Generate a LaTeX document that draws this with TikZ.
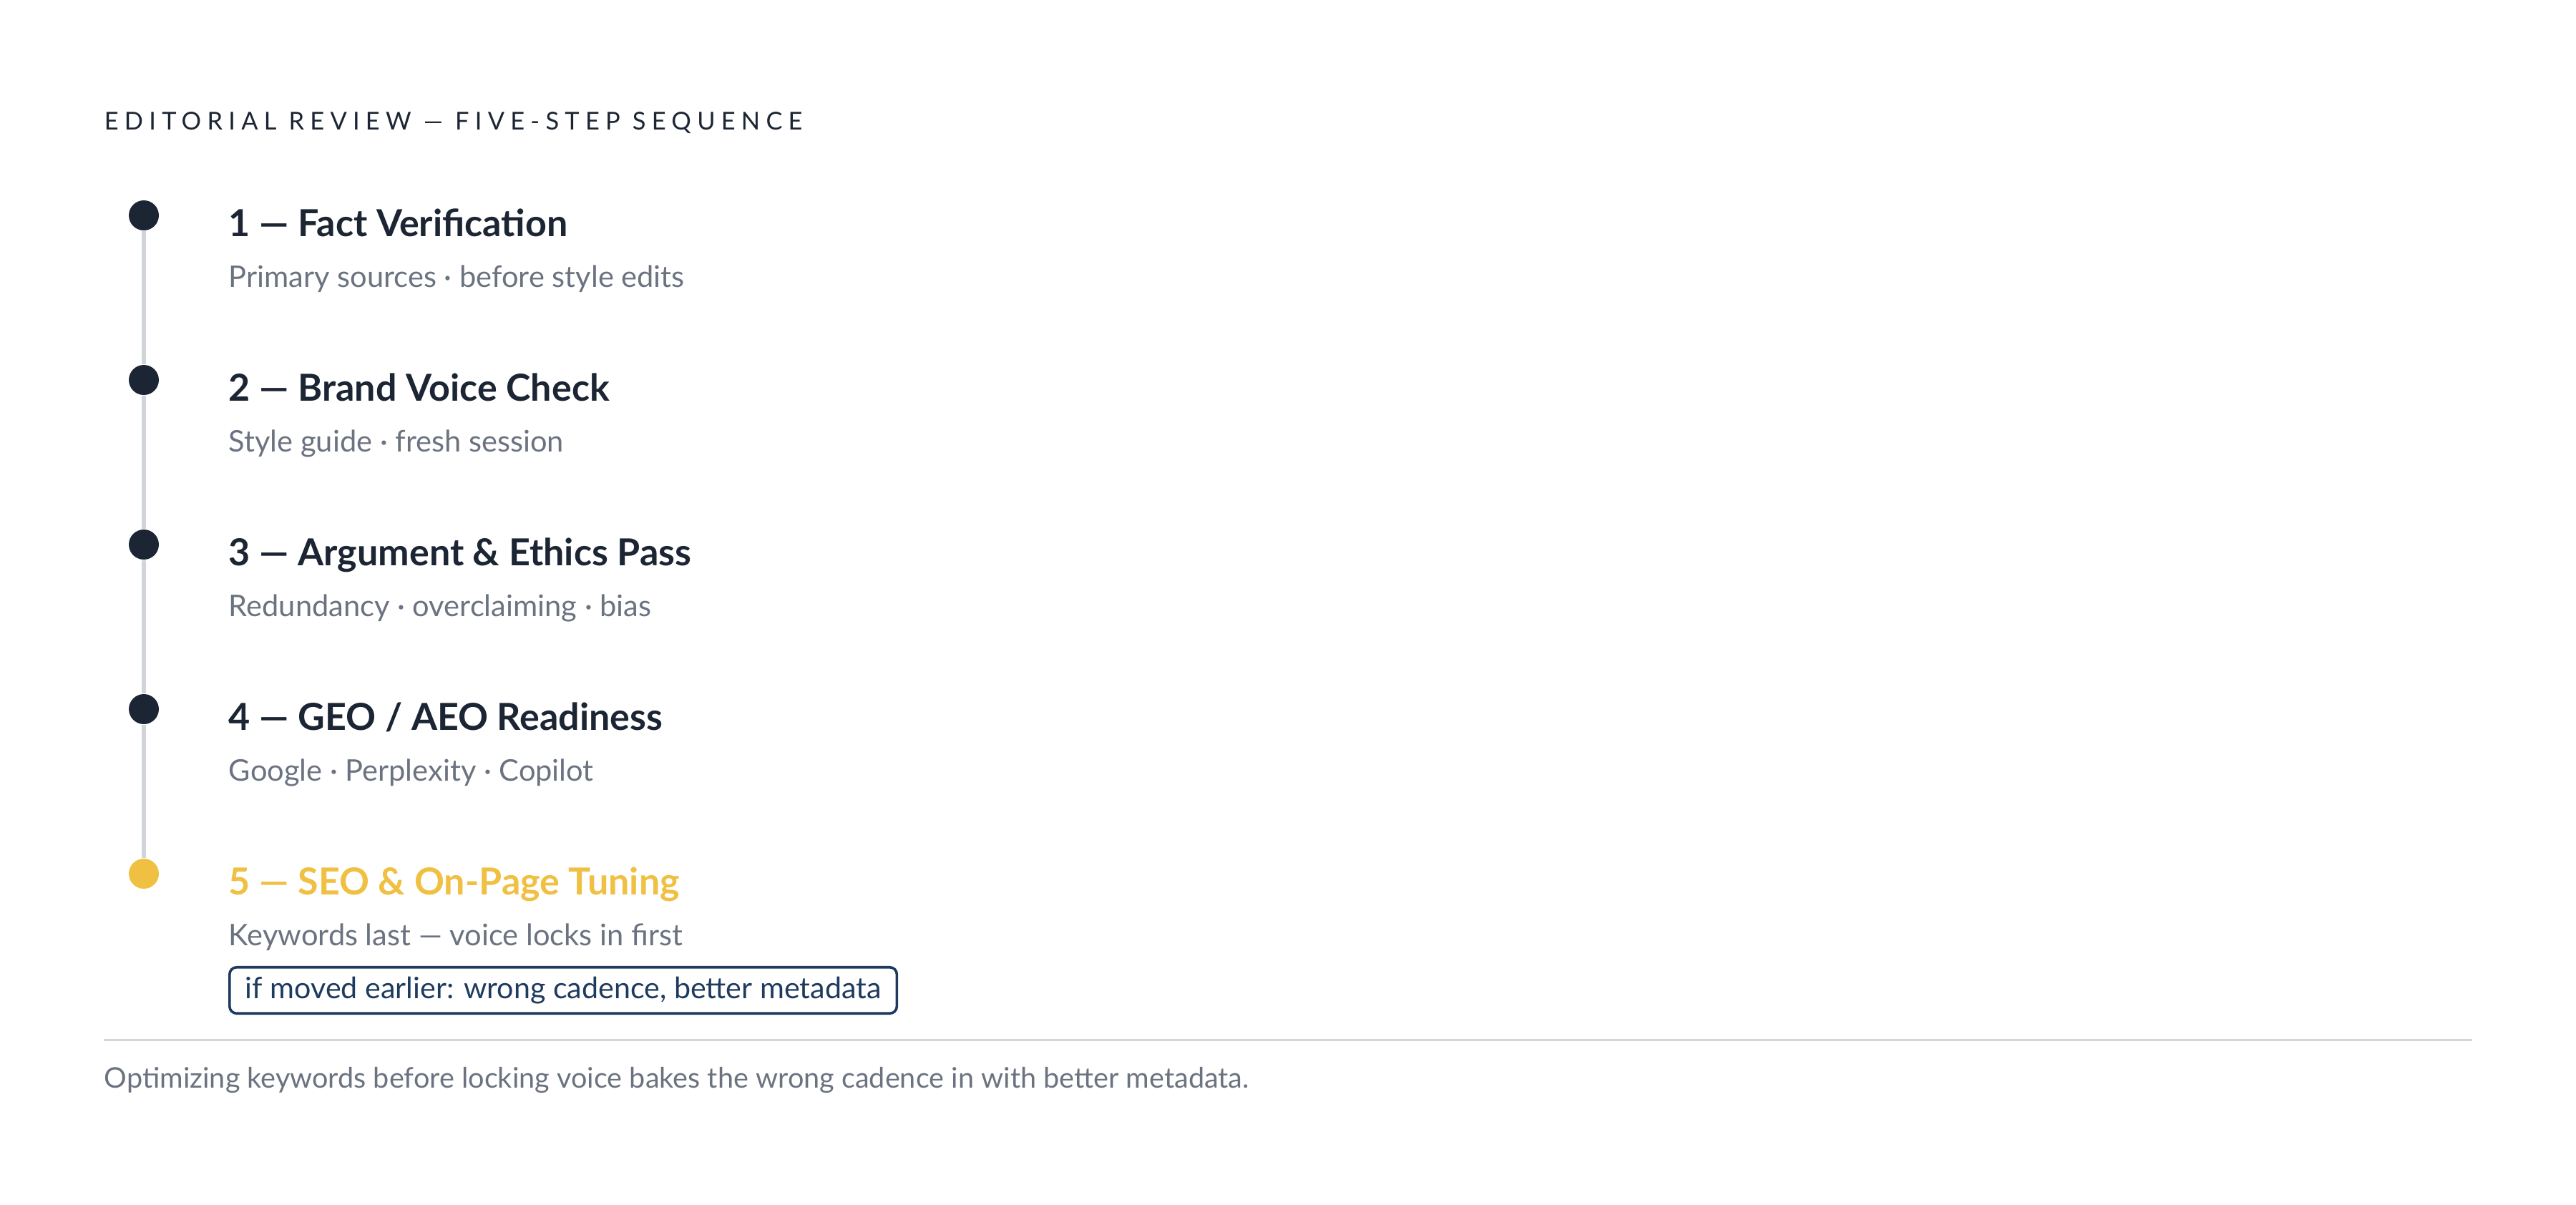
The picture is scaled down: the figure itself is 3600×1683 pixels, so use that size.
\documentclass[tikz,border=0pt]{standalone}
\usepackage{fontspec}
\setmainfont{Lato}
\newfontfamily\trackfont[LetterSpace=24]{Lato}
\definecolor{ink}{HTML}{1C2533}
\definecolor{muted}{HTML}{6B7280}
\definecolor{rail}{HTML}{D1D5DB}
\definecolor{gold}{HTML}{F0C043}
\definecolor{navy}{HTML}{1E3A5F}
\begin{document}
\begin{tikzpicture}[x=0.25pt,y=-0.25pt]
      \useasboundingbox (0,0) rectangle (3600,1683);

      \node[anchor=base west, inner sep=0, text=ink] (title) at (145,181)
        {\trackfont\fontsize{8.6}{10}\selectfont EDITORIAL REVIEW — FIVE-STEP SEQUENCE};

      \begin{scope}[every node/.style={circle, fill=ink, minimum size=10.5pt, inner sep=0}]
        \node (1) at (201,301)  {};
        \node (2) at (201,531)  {};
        \node (3) at (201,761)  {};
        \node (4) at (201,991)  {};
        \node[fill=gold] (5) at (201,1221) {};
      \end{scope}

      \begin{scope}[every edge/.style={draw=rail, line width=1.5pt}]
        \path (1) edge (2);
        \path (2) edge (3);
        \path (3) edge (4);
        \path (4) edge (5);
      \end{scope}

      \begin{scope}[every node/.style={anchor=base west, inner sep=0, text=ink, font=\fontsize{13}{15}\selectfont\bfseries}]
        \node (h1) at (319,330)  {1 — Fact Verification};
        \node (h2) at (319,560)  {2 — Brand Voice Check};
        \node (h3) at (319,790)  {3 — Argument \& Ethics Pass};
        \node (h4) at (319,1020) {4 — GEO / AEO Readiness};
        \node[text=gold] (h5) at (319,1250) {5 — SEO \& On-Page Tuning};
      \end{scope}

      \begin{scope}[every node/.style={anchor=base west, inner sep=0, text=muted, font=\fontsize{10.4}{12}\selectfont}]
        \node (s1) at (319,401)  {Primary sources · before style edits};
        \node (s2) at (319,631)  {Style guide · fresh session};
        \node (s3) at (319,861)  {Redundancy · overclaiming · bias};
        \node (s4) at (319,1091) {Google · Perplexity · Copilot};
        \node (s5) at (319,1321) {Keywords last — voice locks in first};
        \node[font=\fontsize{9.9}{11}\selectfont] (note) at (145,1520) {Optimizing keywords before locking voice bakes the wrong cadence in with better metadata.};
      \end{scope}

      \node[anchor=west, draw=navy, line width=0.9pt, rounded corners=2.5pt, text=navy,
        inner xsep=5.5pt, minimum height=14.25pt, font=\fontsize{10.3}{12}\selectfont] (warn) at (319,1384)
        {if moved earlier: wrong cadence, better metadata};

      \coordinate (rl) at (145,1453);
      \coordinate (rr) at (3455,1453);
      \draw[rail, line width=0.75pt] (rl) -- (rr);

    \end{tikzpicture}
\end{document}
